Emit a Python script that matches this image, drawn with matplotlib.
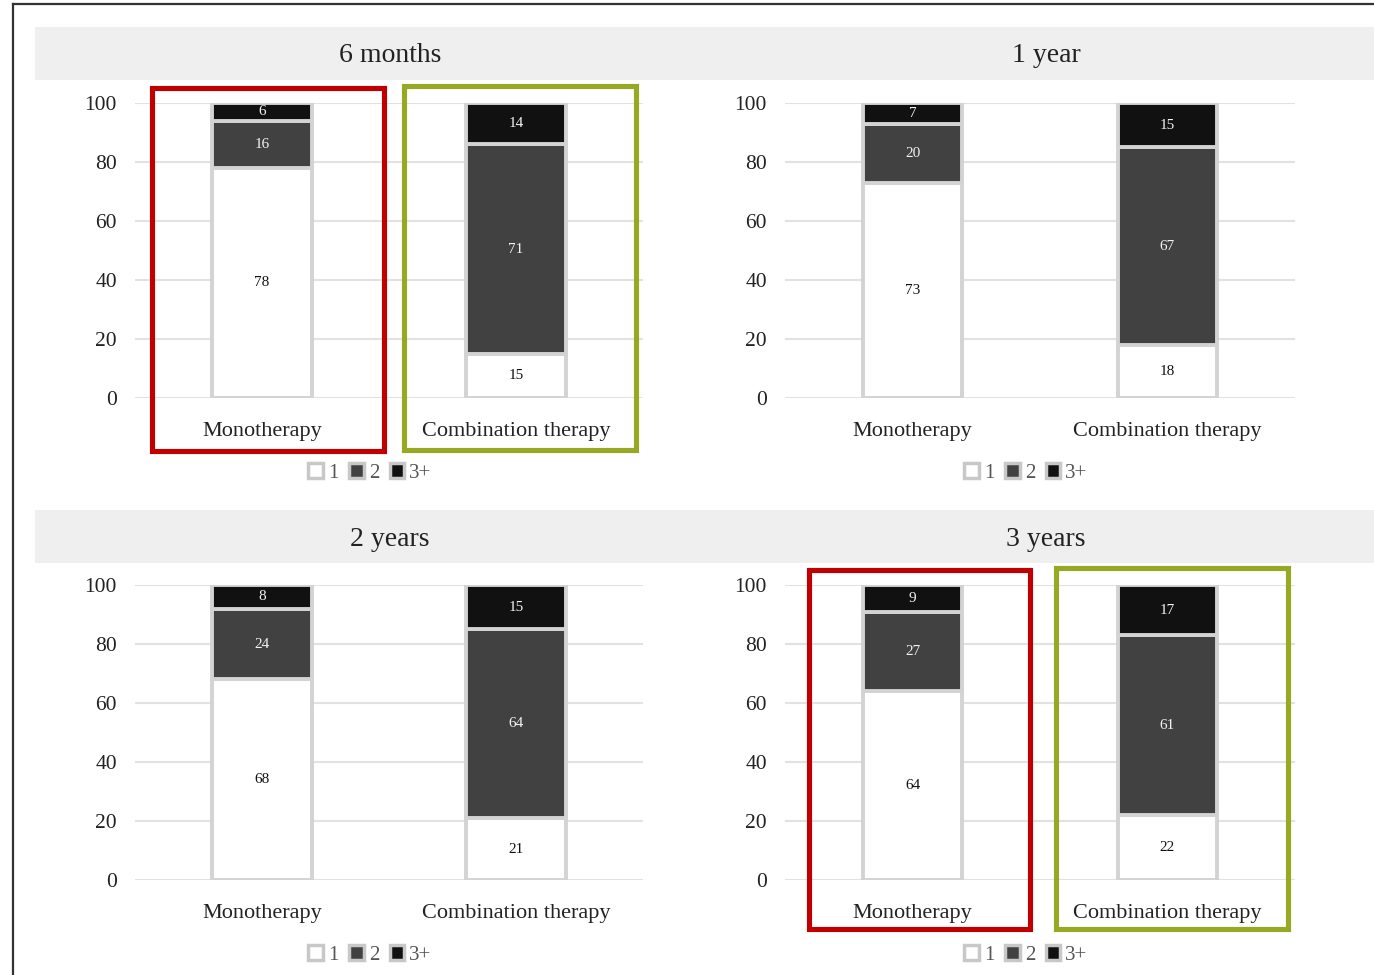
import matplotlib.pyplot as plt
from matplotlib.patches import Patch, Rectangle

plt.rcParams['font.family'] = ['Liberation Serif', 'DejaVu Serif']

periods = ['6 months', '1 year', '2 years', '3 years']
groups = ['Monotherapy', 'Combination therapy']
levels = ['1', '2', '3+']

# share of patients per number of drugs, [mono, combo] for each period
one_drug = [[78, 15], [73, 18], [68, 21], [64, 22]]
two_drugs = [[16, 71], [20, 67], [24, 64], [27, 61]]
three_plus = [[6, 14], [7, 15], [8, 15], [9, 17]]

seg_colors = ['#ffffff', '#414141', '#111111']
text_colors = ['#111111', '#f2f2f2', '#f2f2f2']
edge = '#d3d3d3'

W, H = 1374, 975
fig = plt.figure(figsize=(W / 100, H / 100), dpi=100)


def fx(x):
    return x / W


def fy(y):
    return 1 - y / H


# outer frame lines
fig.add_artist(plt.Line2D([fx(13), fx(13)], [fy(4), 0], color='#333333', lw=1.6))
fig.add_artist(plt.Line2D([fx(13), 1], [fy(4), fy(4)], color='#333333', lw=1.6))

# panel pixel layout: (grid left, grid right, top of 100, bottom of 0, title x, band top)
panels = [
    (135, 643, 103, 398, 390, 27),
    (785, 1295, 103, 398, 1046, 27),
    (135, 643, 585, 880, 390, 510),
    (785, 1295, 585, 880, 1046, 510),
]

for i, (x0, x1, ytop, ybot, tx, band) in enumerate(panels):
    # grey title band
    bx0 = 35 if x0 < 700 else 700
    bx1 = 700 if x0 < 700 else 1374
    fig.add_artist(Rectangle((fx(bx0), fy(band + 53)), fx(bx1 - bx0), 53 / H,
                             transform=fig.transFigure, facecolor='#efefef',
                             edgecolor='none', zorder=0))
    fig.text(fx(tx), fy(band + 29), periods[i], ha='center', va='center',
             fontsize=20, color='#222222')

    ax = fig.add_axes([fx(x0), fy(ybot), fx(x1 - x0), (ybot - ytop) / H])
    ax.set_xlim(-0.5, 1.5)
    ax.set_ylim(0, 100)
    ax.set_yticks([0, 20, 40, 60, 80, 100])
    ax.grid(axis='y', color='#e2e2e2', lw=1.5)
    ax.set_axisbelow(True)
    for s in ax.spines.values():
        s.set_visible(False)
    ax.tick_params(length=0, labelsize=15.5, labelcolor='#222222', pad=13)
    ax.tick_params(axis='x', pad=17, labelsize=16)
    ax.set_xticks([0, 1])
    ax.set_xticklabels(groups)
    ax.patch.set_alpha(0)

    stacks = [one_drug[i], two_drugs[i], three_plus[i]]
    bottom = [0, 0]
    for k, vals in enumerate(stacks):
        ax.bar([0, 1], vals, bottom=bottom, width=0.39, color=seg_colors[k],
               edgecolor=edge, linewidth=2.8, label=levels[k])
        for j in range(2):
            ax.text(j, bottom[j] + vals[j] / 2, str(vals[j]), ha='center',
                    va='center', fontsize=11, color=text_colors[k])
        bottom = [bottom[0] + vals[0], bottom[1] + vals[1]]

    handles = [Patch(facecolor=seg_colors[k], edgecolor='#c8c8c8', linewidth=2.5,
                     label=levels[k]) for k in range(3)]
    lx = (tx - 20 - x0) / (x1 - x0)
    ax.legend(handles=handles, ncol=3, frameon=False, loc='center',
              bbox_to_anchor=(lx, -(ybot + 75 - ytop) / (ybot - ytop) + 1),
              fontsize=15, handlelength=0.7, handleheight=0.7, handletextpad=0.25,
              columnspacing=0.5, labelcolor='#555555')

# highlight boxes around the 6 month and 3 year groups
boxes = [
    (152, 88, 384, 451, '#c00000'),
    (404, 86, 636, 450, '#97a823'),
    (809, 570, 1030, 929, '#c00000'),
    (1056, 568, 1288, 929, '#97a823'),
]
for bx0, by0, bx1, by1, c in boxes:
    fig.add_artist(Rectangle((fx(bx0), fy(by1)), fx(bx1 - bx0), (by1 - by0) / H,
                             transform=fig.transFigure, fill=False,
                             edgecolor=c, linewidth=3.7, zorder=10))

fig.savefig('out.png', dpi=100)
